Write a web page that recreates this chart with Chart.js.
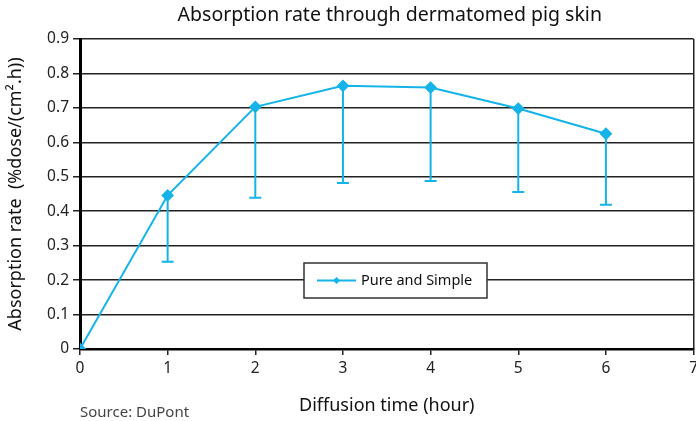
<!DOCTYPE html>
<html>
<head>
<meta charset="utf-8">
<script src="https://cdn.jsdelivr.net/npm/chart.js@4/dist/chart.umd.min.js"></script>
<style>
  html,body{margin:0;padding:0;background:#fff;overflow:hidden;}
  #wrap{width:696px;height:421px;position:relative;overflow:hidden;}
</style>
</head>
<body>
<div id="wrap"><canvas id="c" width="702" height="421"></canvas></div>
<script>
/* DATA */
const hours = [0, 1, 2, 3, 4, 5, 6];
const rate  = [0, 0.446, 0.703, 0.764, 0.759, 0.698, 0.625];
const rateLow = [0, 0.253, 0.439, 0.482, 0.488, 0.456, 0.419];
const seriesName = "Pure and Simple";
const chartTitle = "Absorption rate through dermatomed pig skin";

const CYAN = "#14b4ea";
const FONT = "'Noto Sans', 'Open Sans', sans-serif";

/* error bars, lower side only */
const errorBars = {
  id: "errorBars",
  afterDatasetsDraw(chart){
    const {ctx, scales:{x, y}} = chart;
    ctx.save();
    ctx.strokeStyle = CYAN; ctx.lineWidth = 2;
    hours.forEach((h,i)=>{
      if(rate[i] === rateLow[i]) return;
      const px = x.getPixelForValue(h);
      const top = y.getPixelForValue(rate[i]);
      const bot = y.getPixelForValue(rateLow[i]);
      ctx.beginPath();
      ctx.moveTo(px, top); ctx.lineTo(px, bot);
      ctx.moveTo(px-6, bot); ctx.lineTo(px+6, bot);
      ctx.stroke();
    });
    ctx.restore();
  }
};

/* title, legend box, source note */
const extras = {
  id: "extras",
  afterDraw(chart){
    const ctx = chart.ctx, area = chart.chartArea;
    ctx.save();
    // title centred over plot area
    ctx.fillStyle = "#111";
    ctx.font = "19.5px " + FONT;
    ctx.textAlign = "center"; ctx.textBaseline = "middle";
    ctx.fillText(chartTitle, (area.left + area.right)/2 + 3, 15);
    // legend
    ctx.fillStyle = "#fff";
    ctx.fillRect(304, 263, 183, 35);
    ctx.strokeStyle = "#333"; ctx.lineWidth = 1.5;
    ctx.strokeRect(304, 263, 183, 35);
    ctx.strokeStyle = CYAN; ctx.lineWidth = 2;
    ctx.beginPath(); ctx.moveTo(317, 280.5); ctx.lineTo(356, 280.5); ctx.stroke();
    ctx.fillStyle = CYAN;
    ctx.beginPath();
    ctx.moveTo(336.5, 277); ctx.lineTo(340, 280.5); ctx.lineTo(336.5, 284); ctx.lineTo(333, 280.5);
    ctx.closePath(); ctx.fill();
    ctx.fillStyle = "#111";
    ctx.font = "14.5px " + FONT;
    ctx.textAlign = "left";
    ctx.fillText(seriesName, 361, 281);
    // source
    ctx.fillStyle = "#444";
    ctx.font = "15px " + FONT;
    ctx.fillText("Source: DuPont", 80, 413);
    ctx.restore();
  }
};

new Chart(document.getElementById("c"), {
  type: "line",
  data: {
    labels: hours,
    datasets: [{
      label: seriesName,
      data: hours.map((h,i)=>({x:h, y:rate[i]})),
      borderColor: CYAN,
      backgroundColor: CYAN,
      borderWidth: 2,
      pointStyle: "rectRot",
      pointRadius: 5,
      pointHoverRadius: 5,
      tension: 0
    }]
  },
  options: {
    responsive: false,
    animation: false,
    events: [],
    layout: { padding: { top: 39, right: 0, bottom: 0, left: 0 } },
    plugins: {
      legend: { display: false },
      tooltip: { enabled: false },
      title: { display: false }
    },
    scales: {
      x: {
        type: "linear",
        min: 0, max: 7,
        ticks: { stepSize: 1, color: "#222", font: { family: FONT, size: 15.5 }, padding: 4, maxRotation: 0 },
        grid: {
          color: c => c.tick && c.tick.value === 7 ? "#222" : "rgba(0,0,0,0)",
          tickColor: "#222",
          lineWidth: 1.5,
          tickLength: 6
        },
        border: { color: "#000", width: 2.5 },
        title: {
          display: true, text: "Diffusion time (hour)", color: "#111",
          font: { family: FONT, size: 18 }, padding: { top: 0, bottom: 4 }
        },
        afterFit(s){ s.height = 72; }
      },
      y: {
        min: 0, max: 0.9,
        ticks: { stepSize: 0.1, color: "#222", font: { family: FONT, size: 15.5 }, padding: 4,
                 callback: v => String(Math.round(v*10)/10) },
        grid: { color: "#222", lineWidth: 1.5, tickLength: 7, tickColor: "#222" },
        border: { color: "#000", width: 3 },
        title: {
          display: true, text: "Absorption rate  (%dose/(cm\u00b2.h))", color: "#111",
          font: { family: FONT, size: 18 }, padding: { top: 5, bottom: 0 }
        },
        afterFit(s){ s.width = 80; s.paddingTop = 0; s.paddingBottom = 0; }
      }
    }
  },
  plugins: [errorBars, extras]
});
</script>
</body>
</html>
